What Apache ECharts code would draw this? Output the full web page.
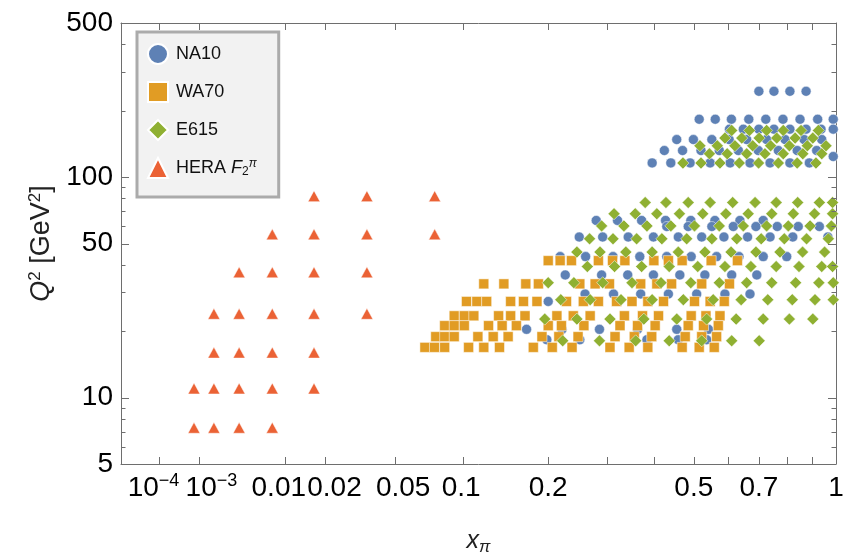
<!DOCTYPE html>
<html><head><meta charset="utf-8">
<script src="https://cdn.jsdelivr.net/npm/echarts@6/dist/echarts.min.js"></script>
<style>html,body{margin:0;padding:0;background:#fff}#c{width:846px;height:555px}</style>
</head><body><div id="c"></div>
<script>
// ---- data ----
const xTickValues = [1e-4, 1e-3, 0.01, 0.02, 0.05, 0.1, 0.2, 0.5, 0.7, 1];
const xTickLabels = [['10','−4'], ['10','−3'], ['0.01'], ['0.02'], ['0.05'], ['0.1'], ['0.2'], ['0.5'], ['0.7'], ['1']];
const xMinorTickValues = [0.3, 0.4, 0.6, 0.8, 0.9];
const yTickValues = [5, 10, 50, 100, 500];
const yMinorTickValues = [6, 7, 8, 9, 20, 30, 40, 60, 70, 80, 90, 200, 300, 400];

const na10Q2 = [245, 183, 165, 148, 132, 124, 116, 63.6, 59.7, 53.5, 43.6, 36.0, 29.5, 27.3, 20.4, 18.3];
const na10X = [
  [0.700, 0.753, 0.812, 0.875],
  [0.515, 0.561, 0.610, 0.666, 0.724, 0.786, 0.851, 0.922, 0.988],
  [0.604, 0.648, 0.700, 0.753, 0.812, 0.875, 0.936, 0.988],
  [0.455, 0.499, 0.551, 0.603, 0.659, 0.727, 0.794, 0.867, 0.939],
  [0.424, 0.470, 0.520, 0.573, 0.632, 0.698, 0.769, 0.840, 0.918],
  [0.988],
  [0.395, 0.440, 0.490, 0.546, 0.606, 0.670, 0.739, 0.812, 0.888],
  [0.279, 0.320, 0.371, 0.427, 0.492, 0.560, 0.637, 0.715],
  [0.430, 0.485, 0.551, 0.616, 0.690, 0.765, 0.844, 0.929],
  [0.249, 0.291, 0.342, 0.398, 0.459, 0.522, 0.587, 0.662, 0.739, 0.823, 0.965],
  [0.218, 0.260, 0.311, 0.367, 0.430, 0.493, 0.565, 0.634, 0.715, 0.800],
  [0.226, 0.289, 0.341, 0.398, 0.463, 0.531, 0.611, 0.693],
  [0.259, 0.312, 0.369, 0.434, 0.508, 0.590, 0.670],
  [0.200],
  [0.170, 0.221, 0.285, 0.362, 0.455, 0.541],
  [0.198, 0.250, 0.383, 0.459, 0.536]
];

const wa70Q2 = [41.8, 32.8, 27.3, 23.5, 21.2, 18.9, 16.9];
const wa70X = [
  [0.200, 0.218, 0.236, 0.283, 0.310, 0.335, 0.399, 0.434, 0.469, 0.549, 0.629],
  [0.120, 0.142, 0.169, 0.186, 0.250, 0.277, 0.304, 0.369, 0.406, 0.442, 0.522, 0.604],
  [0.103, 0.113, 0.123, 0.150, 0.166, 0.184, 0.228, 0.256, 0.283, 0.318, 0.350, 0.385, 0.422, 0.502, 0.546, 0.588],
  [0.092, 0.101, 0.110, 0.136, 0.150, 0.168, 0.213, 0.239, 0.268, 0.334, 0.373, 0.410, 0.493, 0.534, 0.575],
  [0.084, 0.092, 0.101, 0.125, 0.140, 0.157, 0.200, 0.220, 0.257, 0.325, 0.362, 0.402, 0.485, 0.527, 0.570],
  [0.077, 0.084, 0.092, 0.114, 0.130, 0.147, 0.191, 0.216, 0.247, 0.315, 0.355, 0.394, 0.477, 0.522, 0.565],
  [0.069, 0.076, 0.084, 0.105, 0.120, 0.137, 0.179, 0.206, 0.237, 0.305, 0.344, 0.385, 0.469, 0.515, 0.558]
];

const e615Q2 = [162.8, 150.3, 138.7, 127.6, 115.8, 76.7, 68.2, 60.1, 52.5, 45.7, 39.3, 33.2, 27.8, 22.7, 18.1];
const e615X = [
  [0.611, 0.668, 0.727, 0.787, 0.855, 0.925],
  [0.590, 0.643, 0.701, 0.763, 0.832, 0.902],
  [0.517, 0.567, 0.621, 0.679, 0.741, 0.810, 0.880, 0.957],
  [0.544, 0.597, 0.659, 0.721, 0.787, 0.862, 0.939],
  [0.471, 0.520, 0.575, 0.635, 0.699, 0.769, 0.840, 0.915],
  [0.379, 0.428, 0.485, 0.546, 0.614, 0.687, 0.761, 0.842, 0.929, 0.985],
  [0.313, 0.357, 0.406, 0.462, 0.525, 0.593, 0.664, 0.745, 0.825, 0.909, 0.985],
  [0.289, 0.333, 0.383, 0.440, 0.502, 0.573, 0.648, 0.727, 0.806, 0.891, 0.980],
  [0.267, 0.311, 0.360, 0.418, 0.481, 0.551, 0.627, 0.708, 0.791, 0.877, 0.967],
  [0.245, 0.286, 0.337, 0.395, 0.459, 0.531, 0.609, 0.690, 0.775, 0.861, 0.951],
  [0.263, 0.314, 0.371, 0.436, 0.511, 0.590, 0.673, 0.761, 0.847, 0.939, 0.985],
  [0.200, 0.240, 0.291, 0.350, 0.416, 0.492, 0.573, 0.659, 0.745, 0.834, 0.927, 0.988],
  [0.219, 0.268, 0.327, 0.395, 0.472, 0.555, 0.641, 0.731, 0.821, 0.911, 0.988],
  [0.195, 0.245, 0.305, 0.376, 0.455, 0.536, 0.625, 0.715, 0.810, 0.902],
  [0.222, 0.285, 0.358, 0.436, 0.522, 0.611, 0.701]
];

const heraQ2 = [7.3, 11, 16, 24, 37, 55, 82];
const heraX = [
  [0.0008, 0.0017, 0.0036, 0.0078],
  [0.0008, 0.0017, 0.0036, 0.0078, 0.0167],
  [0.0017, 0.0036, 0.0078, 0.0167],
  [0.0017, 0.0036, 0.0078, 0.0167, 0.0356],
  [0.0036, 0.0078, 0.0167, 0.0356],
  [0.0078, 0.0167, 0.0356, 0.0762],
  [0.0167, 0.0356, 0.0762]
];

// ---- scale / layout ----
const X_POWER = 0.32;                 // the x axis is a power scale x^0.32
const tx = v => Math.pow(v, X_POWER);
const xLabelShift = [-5, 12, -6, 9, 8, -2, 0, 0, 0, 0];
const FONT = '"Liberation Sans", Arial, sans-serif';
const AX = '#6e6e6e';
const C = {na10: '#5E81B5', wa70: '#E19C24', e615: '#8FB032', hera: '#EB6235'};

function points(q2s, xs) {
  const out = [];
  q2s.forEach((q, i) => xs[i].forEach(x => out.push([tx(x), q])));
  return out;
}

const xRich = {};
xTickLabels.forEach((parts, i) => {
  const d = xLabelShift[i];
  const first = {fontSize: 28, lineHeight: 32, color: '#000', fontFamily: FONT};
  let last = first;
  if (parts.length > 1) {
    last = {fontSize: 18, lineHeight: 18, verticalAlign: 'top', color: '#000', fontFamily: FONT};
    xRich['s' + i] = last;
  }
  if (d > 0) first.padding = [0, 0, 0, 2 * d];
  if (d < 0) last.padding = [0, -2 * d, 0, 0];
  xRich['m' + i] = first;
});
const xLabelT = xTickValues.map(tx);
const xAllTicksT = xTickValues.concat(xMinorTickValues).map(tx);
function xFormatter(v) {
  let best = 0, bd = Infinity;
  xLabelT.forEach((t, i) => { const dd = Math.abs(t - v); if (dd < bd) { bd = dd; best = i; } });
  const p = xTickLabels[best];
  return '{m' + best + '|' + p[0] + '}' + (p[1] ? '{s' + best + '|' + p[1] + '}' : '');
}
// labels split over two overlaid bottom axes so that neighbours never collide
const xLabelsA = xLabelT.filter((t, i) => i % 2 === 0);
const xLabelsB = xLabelT.filter((t, i) => i % 2 === 1);

function xAx(pos, showLine, labels) {
  return {
    type: 'value', min: 0, max: 1, position: pos,
    axisLine: {show: showLine, onZero: false, lineStyle: {color: AX, width: 1}},
    axisTick: {show: false},
    axisLabel: labels
      ? {show: true, customValues: labels, formatter: xFormatter, rich: xRich, margin: 8,
         hideOverlap: false, showMinLabel: true, showMaxLabel: true}
      : {show: false},
    splitLine: {show: false}
  };
}
function yAx(pos, withLabel) {
  return {
    type: 'log', min: 5, max: 500, position: pos,
    splitLine: {show: false},
    axisLine: {show: true, onZero: false, lineStyle: {color: AX, width: 1}},
    axisTick: {show: false},
    axisLabel: withLabel ? {show: true, customValues: yTickValues.slice(), fontSize: 28, color: '#000',
      fontFamily: FONT, margin: 8, hideOverlap: false, showMinLabel: true, showMaxLabel: true,
      formatter: v => String(Math.round(v))} : {show: false}
  };
}

const chart = echarts.init(document.getElementById('c'));
const xBottom = Object.assign(xAx('bottom', true, xLabelsA), {
  name: '{xi|x}{xs|π}', nameLocation: 'middle', nameGap: 62,
  nameTextStyle: {rich: {
    xi: {fontSize: 25, fontStyle: 'italic', fontFamily: FONT, color: '#222', lineHeight: 30},
    xs: {fontSize: 17, fontStyle: 'italic', fontFamily: FONT, color: '#222', verticalAlign: 'bottom', lineHeight: 17}
  }}
});
const yLeft = Object.assign(yAx('left', true), {
  name: '{qi|Q}{qs|2}{qn| [GeV}{qs|2}{qn|]}', nameLocation: 'middle', nameGap: 60,
  nameTextStyle: {rich: {
    qi: {fontSize: 27, fontStyle: 'italic', fontFamily: FONT, color: '#222', lineHeight: 30},
    qn: {fontSize: 27, fontFamily: FONT, color: '#222', lineHeight: 30},
    qs: {fontSize: 17, fontFamily: FONT, color: '#222', verticalAlign: 'top', lineHeight: 17}
  }}
});

const option = {
  animation: false,
  backgroundColor: '#fff',
  grid: {left: 121, right: 10, top: 23, bottom: 91, containLabel: false, outerBoundsMode: 'none'},
  legend: {
    orient: 'vertical', left: 137, top: 32,
    itemWidth: 20, itemHeight: 20, itemGap: 16,
    padding: [11, 22, 18, 10],
    backgroundColor: '#f2f2f2', borderColor: '#ababab', borderWidth: 3, borderRadius: 0,
    textStyle: {fontSize: 18, lineHeight: 20, color: '#111', fontFamily: FONT, padding: [0, 0, 0, 3],
      rich: {
        i: {fontSize: 18, fontStyle: 'italic', fontFamily: FONT, color: '#111', lineHeight: 20},
        sb: {fontSize: 12, fontFamily: FONT, color: '#111', verticalAlign: 'bottom', lineHeight: 12},
        sp: {fontSize: 12, fontStyle: 'italic', fontFamily: FONT, color: '#111', verticalAlign: 'top', lineHeight: 12}
      }},
    data: [{name: 'NA10', icon: 'circle'}, {name: 'WA70', icon: 'rect'},
           {name: 'E615', icon: 'diamond'}, {name: 'HERA F2π', icon: 'triangle'}],
    formatter: n => n === 'HERA F2π' ? 'HERA {i|F}{sb|2}{sp|π}' : n
  },
  xAxis: [xBottom, xAx('top', true, null), xAx('bottom', false, xLabelsB)],
  yAxis: [yLeft, yAx('right', false)],
  series: [
    {name: 'NA10', type: 'scatter', symbol: 'circle', symbolSize: 10,
     itemStyle: {color: C.na10, borderColor: '#fff', borderWidth: 0.5, opacity: 1},
     data: points(na10Q2, na10X)},
    {name: 'WA70', type: 'scatter', symbol: 'rect', symbolSize: 10,
     itemStyle: {color: C.wa70, borderColor: '#fff', borderWidth: 0.5, opacity: 1},
     data: points(wa70Q2, wa70X)},
    {name: 'E615', type: 'scatter', symbol: 'diamond', symbolSize: 12,
     itemStyle: {color: C.e615, borderColor: '#fff', borderWidth: 0.5, opacity: 1},
     data: points(e615Q2, e615X)},
    {name: 'HERA F2π', type: 'scatter', symbol: 'triangle', symbolSize: [12, 11],
     itemStyle: {color: C.hera, borderColor: '#fff', borderWidth: 0.5, opacity: 1},
     data: points(heraQ2, heraX)}
  ]
};
chart.setOption(option);

// frame tick marks, placed through the chart's own axis scales
(function addTicks() {
  const px = v => chart.convertToPixel({xAxisIndex: 0}, v);
  const py = v => chart.convertToPixel({yAxisIndex: 0}, v);
  const crisp = v => Math.round(v) + 0.5;
  const yB = py(5), yT = py(500), xL = px(0), xR = px(1);
  const g = [];
  const seg = (x1, y1, x2, y2) => g.push({type: 'line', silent: true, z: 10,
    shape: {x1: x1, y1: y1, x2: x2, y2: y2}, style: {stroke: AX, lineWidth: 1}});
  xAllTicksT.forEach(t => {
    const x = crisp(px(t));
    seg(x, yB, x, yB - 7);
    seg(x, yT, x, yT + 7);
  });
  yTickValues.forEach(v => {
    const y = crisp(py(v));
    seg(xL, y, xL + 8, y);
    seg(xR, y, xR - 8, y);
  });
  yMinorTickValues.forEach(v => {
    const y = crisp(py(v));
    seg(xL, y, xL + 4.5, y);
    seg(xR, y, xR - 4.5, y);
  });
  chart.setOption({graphic: g});
})();
</script>
</body></html>
